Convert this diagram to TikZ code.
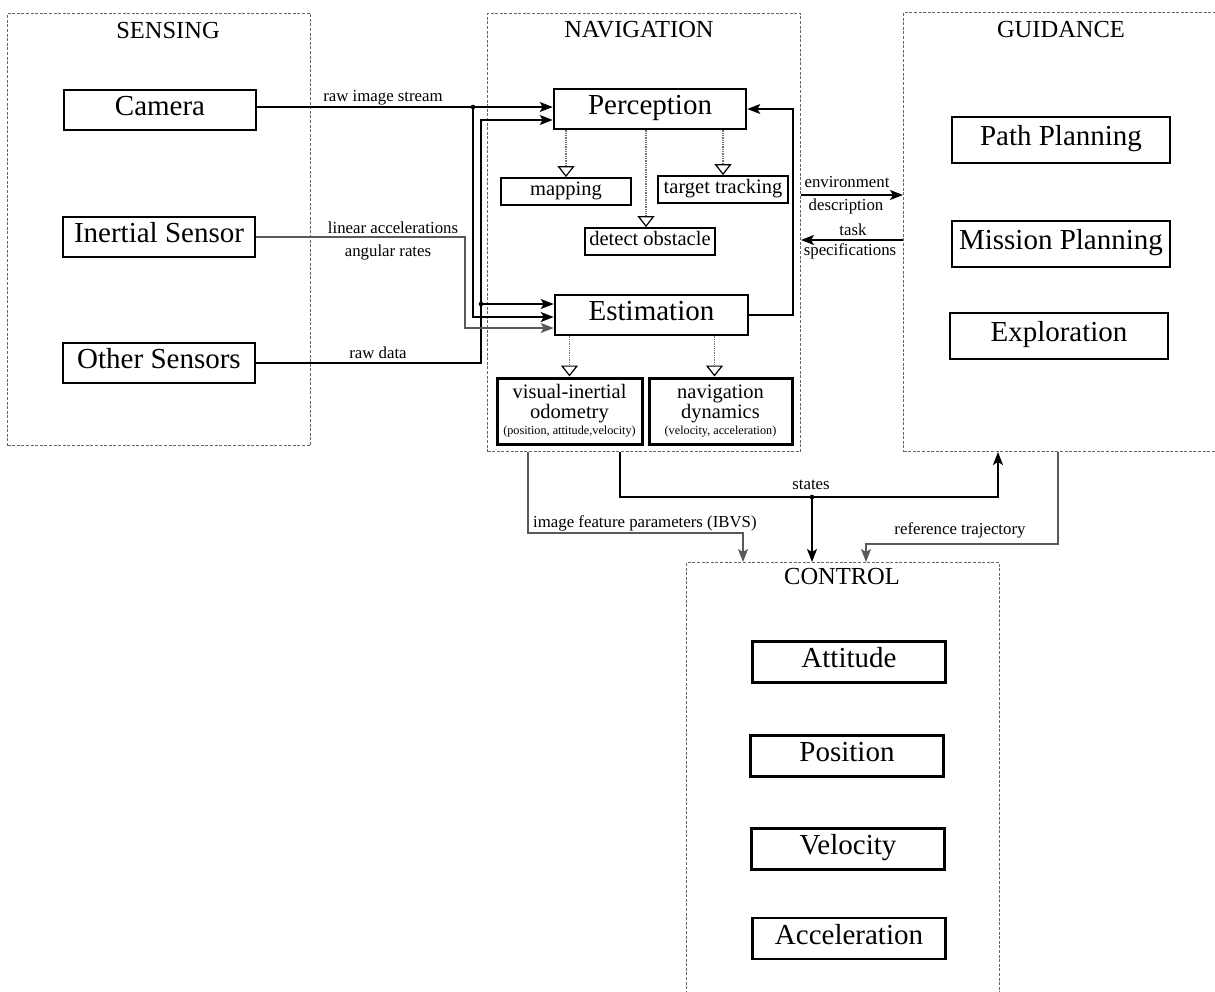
\documentclass[tikz,border=0pt]{standalone}
\usepackage{fontspec}
\setmainfont{Liberation Serif}
\usetikzlibrary{arrows.meta,calc}
\newcommand\FMain{\fontsize{29}{33}\selectfont}
\newcommand\FTitle{\fontsize{24.5}{28}\selectfont}
\newcommand\FSub{\fontsize{20.5}{20}\selectfont}
\newcommand\FLab{\fontsize{16.8}{19}\selectfont}
\newcommand\FSmall{\fontsize{12.2}{14}\selectfont}
\begin{document}
\begin{tikzpicture}[x=1pt,y=-1pt,
  every node/.style={inner sep=0pt},
  container/.style={draw=black!60, dash pattern=on 3pt off 1.6pt, line width=1pt, anchor=north west},
  bigbox/.style={draw, line width=2.6pt, font=\FMain, text height=19pt, text depth=7.5pt, minimum height=40pt},
  gbox/.style={bigbox, minimum width=218pt, minimum height=46pt},
  cbox/.style={bigbox, line width=2.2pt, minimum width=193pt, minimum height=41pt},
  subbox/.style={draw, line width=1.8pt, font=\FSub, text height=13.5pt, text depth=5.3pt, minimum height=27pt, minimum width=130pt},
  resbox/.style={draw, line width=3pt, font=\FSub, align=center, minimum height=66pt},
  title/.style={font=\FTitle, anchor=base},
  lab/.style={font=\FLab, anchor=base},
  arr/.style={line width=1.3pt, draw=black, -{Stealth[length=13pt,width=10pt,inset=3pt]}},
  grayarr/.style={arr, draw=black!65},
  dotarr/.style={draw=black!55, line width=1.3pt, densely dotted, -{Triangle[open,length=11pt,width=17pt,line width=1.2pt,color=black]}},
  dot/.style={fill=black}
]
\useasboundingbox (0,0) rectangle (1215,991);
\clip (0,0) rectangle (1215,991);

% containers
\node[container, minimum width=303pt, minimum height=432pt] (sens) at (7,13) {};
\node[container, minimum width=313pt, minimum height=438pt] (nav) at (487,13) {};
\node[container, minimum width=330pt, minimum height=439pt] (gui) at (903,12) {};
\node[container, minimum width=313pt, minimum height=450pt] (ctl) at (686,562) {};

\node[title] (tsens) at (168,38) {SENSING};
\node[title] (tnav) at (639,37) {NAVIGATION};
\node[title] (tgui) at (1061,37) {GUIDANCE};
\node[title] (tctl) at (842,584) {CONTROL};

% sensing
\node[bigbox, minimum width=192pt] (cam) at (160,110) {Camera};
\node[bigbox, minimum width=192pt] (ins) at (159,237) {Inertial Sensor};
\node[bigbox, minimum width=192pt] (oth) at (159,363) {Other Sensors};

% navigation
\node[bigbox, minimum width=192pt] (perc) at (650,109) {Perception};
\node[bigbox, minimum width=193pt] (est) at (651.5,315) {Estimation};
\node[subbox] (map) at (566,191.5) {mapping};
\node[subbox] (tt) at (723,189.5) {target tracking};
\node[subbox] (det) at (650,241.5) {detect obstacle};
\node[resbox, minimum width=145pt] (vio) at (569.5,411) {visual-inertial\\odometry\\[-4pt]{\FSmall(position, attitude,velocity)}};
\node[resbox, minimum width=143pt] (ndyn) at (720.5,411) {navigation\\dynamics\\[-4pt]{\FSmall(velocity, acceleration)}};

% guidance
\node[gbox] (pp) at (1061,140) {Path Planning};
\node[gbox] (mp) at (1061,244) {Mission Planning};
\node[gbox] (ex) at (1059,336) {Exploration};

% control
\node[cbox] (att) at (849,662) {Attitude};
\node[cbox] (pos) at (847,756) {Position};
\node[cbox] (vel) at (848,849) {Velocity};
\node[cbox] (acc) at (849,938.5) {Acceleration};

% sensing -> navigation
\coordinate (j1) at (473,107);
\coordinate (c2) at (473,317);
\coordinate (r1) at (481,120);
\coordinate (j2) at (481,304);
\coordinate (i1) at (465,328);
\coordinate (l1) at (793,109);
\draw[arr] (cam.east |- j1) -- (j1 -| perc.west);
\draw[arr] (j1) -- (c2) -- (c2 -| est.west);
\draw[arr] (oth.east) -| (r1) -- (r1 -| perc.west);
\draw[arr] (j2) -- (j2 -| est.west);
\draw[grayarr] (ins.east) -| (i1) -- (i1 -| est.west);
\draw[arr] (est.east) -| (l1) -- (perc.east);
\fill[dot] (j1) circle (2.3pt);
\fill[dot] (j2) circle (2.3pt);

% inside navigation
\coordinate (dn) at ($(det.north)+(-4,0)$);
\coordinate (nn) at ($(ndyn.north)+(-6,0)$);
\draw[dotarr] (map.north |- perc.south) -- (map.north);
\draw[dotarr] (dn |- perc.south) -- (dn);
\draw[dotarr] (tt.north |- perc.south) -- (tt.north);
\draw[dotarr] (vio.north |- est.south) -- (vio.north);
\draw[dotarr] (nn |- est.south) -- (nn);

% navigation <-> guidance
\coordinate (ev) at (800,195);
\coordinate (tk) at (800,240);
\draw[arr] (ev -| nav.east) -- (ev -| gui.west);
\draw[arr] (tk -| gui.west) -- (tk -| nav.east);

% to control
\coordinate (s1) at (620,497);
\coordinate (sd) at (812,497);
\coordinate (s2) at (998,497);
\draw[arr] (s1 |- nav.south) -- (s1) -- (s2) -- (s2 |- gui.south);
\draw[arr] (sd) -- (sd |- ctl.north);
\fill[dot] (sd) circle (2.3pt);
\coordinate (b1) at (528,533);
\coordinate (b2) at (743,533);
\draw[grayarr] (b1 |- nav.south) -- (b1) -- (b2) -- (b2 |- ctl.north);
\coordinate (t1) at (1058,544);
\coordinate (t2) at (866,544);
\draw[grayarr] (t1 |- gui.south) -- (t1) -- (t2) -- (t2 |- ctl.north);

% labels
\node[lab] (lraw) at (383,101) {raw image stream};
\node[lab] (llin) at (393,233) {linear accelerations};
\node[lab] (lang) at (388,256) {angular rates};
\node[lab] (ldat) at (378,358) {raw data};
\node[lab] (lenv) at (847,187) {environment};
\node[lab] (ldes) at (846,210) {description};
\node[lab] (ltask) at (853,235) {task};
\node[lab] (lspec) at (850,255) {specifications};
\node[lab] (lst) at (811,489) {states};
\node[lab, anchor=base west] (libvs) at (533,527) {image feature parameters (IBVS)};
\node[lab] (lref) at (960,534) {reference trajectory};
\end{tikzpicture}
\end{document}
